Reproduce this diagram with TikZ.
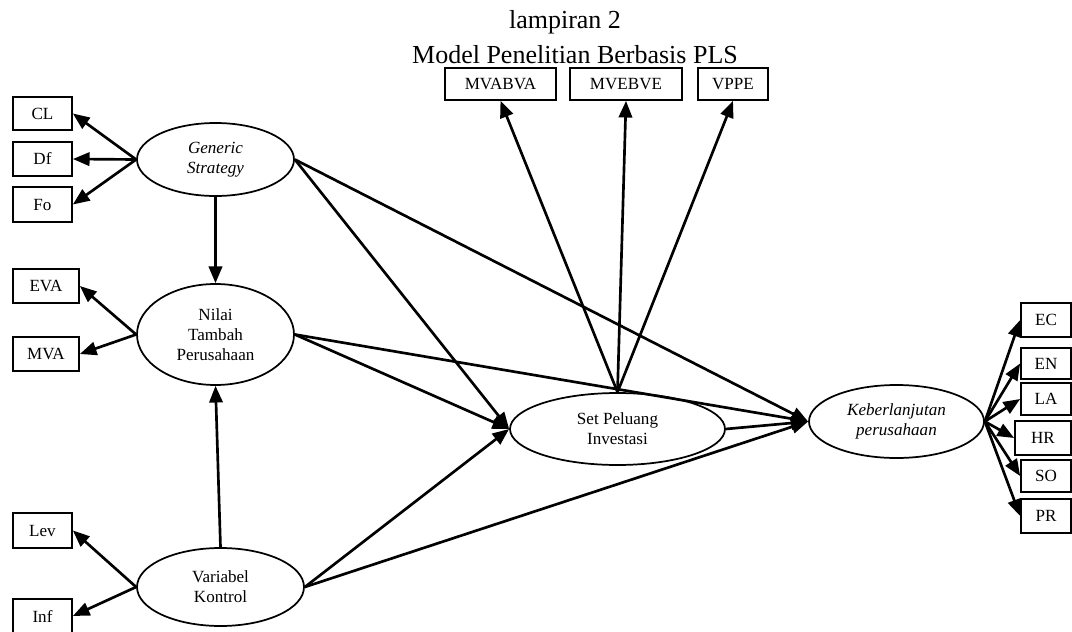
\documentclass[tikz,border=0pt]{standalone}
\usepackage{fontspec}
\setmainfont{Liberation Serif}
\usetikzlibrary{shapes.geometric,arrows.meta}
\begin{document}
\begin{tikzpicture}[x=0.75pt,y=-0.75pt,
  box/.style={draw,line width=1.3pt,rectangle,inner sep=0pt,font=\fontsize{12.8}{15}\selectfont},
  lv/.style={draw,line width=1.3pt,ellipse,inner sep=0pt,align=center,font=\fontsize{12.8}{15}\selectfont},
  conn/.style={line width=2pt,-{Triangle[length=12.5pt,width=10pt]}},
  ttl/.style={anchor=base,inner sep=0pt,font=\fontsize{19.5}{22}\selectfont}]
\useasboundingbox (0,0) rectangle (1072,632);
% titles
\node[ttl] (t1) at (565,28) {lampiran 2};
\node[ttl] (t2) at (575,63) {Model Penelitian Berbasis PLS};
% latent variables
\node[lv,minimum width=117.75pt,minimum height=54.75pt] (gs) at (215.5,159.5) {\itshape Generic\\\itshape Strategy};
\node[lv,minimum width=117.75pt,minimum height=75.75pt] (nt) at (215.5,334.5) {Nilai\\Tambah\\Perusahaan};
\node[lv,minimum width=125.25pt,minimum height=58.5pt] (vk) at (220.5,587) {Variabel\\Kontrol};
\node[lv,minimum width=161.25pt,minimum height=54pt] (spi) at (617.5,429) {Set Peluang\\Investasi};
\node[lv,minimum width=131.25pt,minimum height=54.75pt] (kp) at (896.5,421.5) {\itshape Keberlanjutan\\\itshape perusahaan};
% indicators left
\node[box,minimum width=44.25pt,minimum height=24.75pt] (cl) at (42.5,113.5) {CL};
\node[box,minimum width=44.25pt,minimum height=25.5pt] (df) at (42.5,159) {Df};
\node[box,minimum width=44.25pt,minimum height=26.25pt] (fo) at (42.5,204.5) {Fo};
\node[box,minimum width=49.5pt,minimum height=25.5pt] (eva) at (46,286) {EVA};
\node[box,minimum width=49.5pt,minimum height=25.5pt] (mva) at (46,354) {MVA};
\node[box,minimum width=44.25pt,minimum height=26.25pt] (lev) at (42.5,530.5) {Lev};
\node[box,minimum width=44.25pt,minimum height=25.5pt] (inf) at (42.5,616) {Inf};
% indicators top
\node[box,minimum width=83.25pt,minimum height=24pt] (mvabva) at (500.5,84) {MVABVA};
\node[box,minimum width=84pt,minimum height=24pt] (mvebve) at (626,84) {MVEBVE};
\node[box,minimum width=52.5pt,minimum height=24pt] (vppe) at (733,84) {VPPE};
% indicators right
\node[box,minimum width=37.5pt,minimum height=25.5pt] (ec) at (1046,320) {EC};
\node[box,minimum width=37.5pt,minimum height=23.25pt] (en) at (1046,363.5) {EN};
\node[box,minimum width=37.5pt,minimum height=24pt] (la) at (1046,399) {LA};
\node[box,minimum width=42pt,minimum height=25.5pt] (hr) at (1043,438) {HR};
\node[box,minimum width=37.5pt,minimum height=24pt] (so) at (1046,476) {SO};
\node[box,minimum width=37.5pt,minimum height=25.5pt] (pr) at (1046,516) {PR};
% measurement arrows
\draw[conn] (gs.west) -- (cl.east);
\draw[conn] (gs.west) -- (df.east);
\draw[conn] (gs.west) -- (fo.east);
\draw[conn] (nt.west) -- (eva.east);
\draw[conn] (nt.west) -- (mva.east);
\draw[conn] (vk.west) -- (lev.east);
\draw[conn] (vk.west) -- (inf.east);
\draw[conn] (spi.north) -- (mvabva.south);
\draw[conn] (spi.north) -- (mvebve.south);
\draw[conn] (spi.north) -- (vppe.south);
\draw[conn] (kp.east) -- (ec.west);
\draw[conn] (kp.east) -- (en.west);
\draw[conn] (kp.east) -- (la.west);
\draw[conn] (kp.east) -- (hr.west);
\draw[conn] (kp.east) -- (so.west);
\draw[conn] (kp.east) -- (pr.west);
% structural arrows
\draw[conn] (gs.south) -- (nt.north);
\draw[conn] (vk.north) -- (nt.south);
\draw[conn] (gs.east) -- (spi.west);
\draw[conn] (gs.east) -- (kp.west);
\draw[conn] (nt.east) -- (spi.west);
\draw[conn] (nt.east) -- (kp.west);
\draw[conn] (vk.east) -- (spi.west);
\draw[conn] (vk.east) -- (kp.west);
\draw[conn] (spi.east) -- (kp.west);
\end{tikzpicture}
\end{document}
